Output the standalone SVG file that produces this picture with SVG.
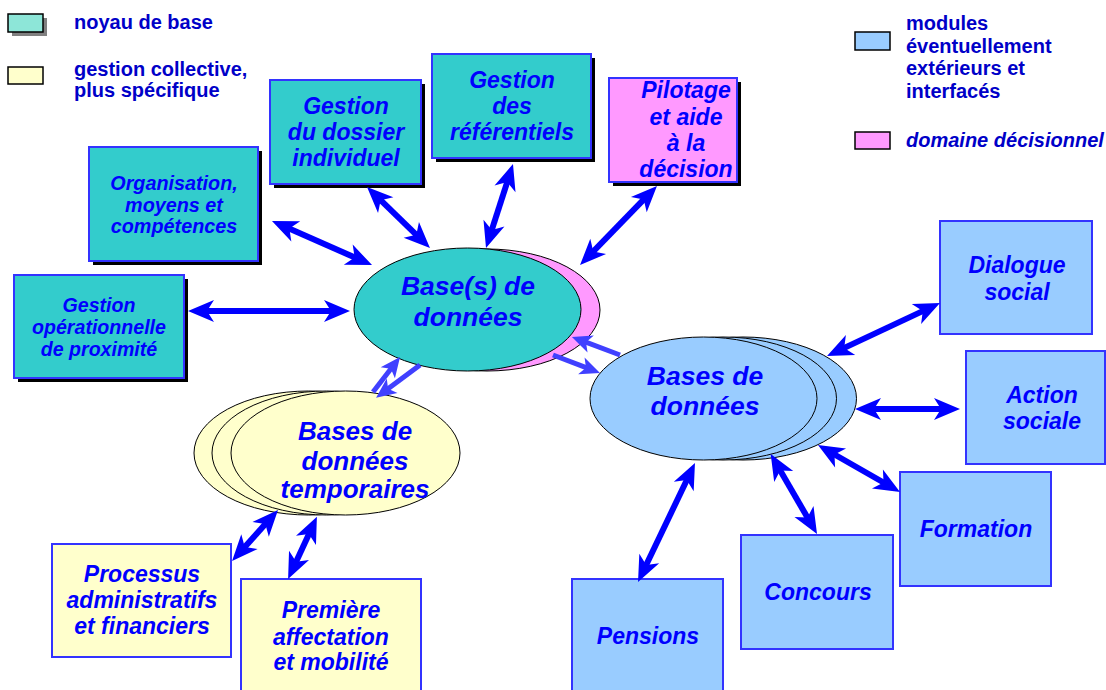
<svg xmlns="http://www.w3.org/2000/svg" width="1106" height="690" viewBox="0 0 1106 690">
<style>
.lg{font-family:"Liberation Sans",Arial,sans-serif;font-weight:bold;font-size:20px;fill:#0000c8}
.t{font-family:"Liberation Sans",Arial,sans-serif;font-weight:bold;font-style:italic;fill:#0000ff;text-anchor:middle}
.s22{font-size:23px}
.s26{font-size:26.5px}
.teal{fill:#33cccc;stroke:#3333ff;stroke-width:2}
.pink{fill:#ff99ff;stroke:#3333ff;stroke-width:2}
.blue{fill:#99ccff;stroke:#3333ff;stroke-width:2}
.yel{fill:#ffffcc;stroke:#3333ff;stroke-width:2}
.sh{fill:#000}
.el{stroke:#000;stroke-width:1}
.a{stroke:#0000ff;stroke-width:6;fill:none;marker-start:url(#h);marker-end:url(#h)}
.b{stroke:#4040ff;stroke-width:5;fill:none;marker-end:url(#h2)}
</style>
<defs>
<marker id="h" markerUnits="userSpaceOnUse" viewBox="-12 -12 28 24" markerWidth="28" markerHeight="24" refX="0" refY="0" orient="auto-start-reverse" overflow="visible">
<path d="M15,0 L-11,-11 L-4,0 L-11,11 Z" fill="#0000ff"/>
</marker>
<marker id="h2" markerUnits="userSpaceOnUse" viewBox="-10 -10 24 20" markerWidth="24" markerHeight="20" refX="0" refY="0" orient="auto" overflow="visible">
<path d="M12,0 L-8,-9 L-3,0 L-8,9 Z" fill="#4040ff"/>
</marker>
</defs>

<g id="legend">
<rect x="12" y="18" width="35" height="18" fill="#808080"/>
<rect x="8" y="14" width="35" height="18" fill="#8de6d8" stroke="#000" stroke-width="1.5"/>
<text class="lg" x="74" y="29">noyau de base</text>
<rect x="8" y="67" width="35" height="17" fill="#ffffcc" stroke="#000" stroke-width="1.5"/>
<text class="lg" x="74" y="76">gestion collective,</text>
<text class="lg" x="74" y="97">plus spécifique</text>
<rect x="855" y="32" width="35" height="18" fill="#99ccff" stroke="#000" stroke-width="1.5"/>
<text class="lg" x="906" y="30">modules</text>
<text class="lg" x="906" y="53">éventuellement</text>
<text class="lg" x="906" y="75">extérieurs et</text>
<text class="lg" x="906" y="98">interfacés</text>
<rect x="855" y="132" width="35" height="17" fill="#ff99ff" stroke="#000" stroke-width="1.5"/>
<text class="lg" x="906" y="147" font-style="italic" font-size="21">domaine décisionnel</text>
</g>

<g id="organisation">
<rect class="sh" x="93" y="151" width="169" height="114"/>
<rect class="teal" x="89" y="147" width="169" height="114"/>
<text class="t" font-size="19.8" x="174" y="190">Organisation,</text>
<text class="t" font-size="19.8" x="174" y="212">moyens et</text>
<text class="t" font-size="19.8" x="174" y="233">compétences</text>
</g>

<g id="operationnelle">
<rect class="sh" x="18" y="279" width="170" height="103"/>
<rect class="teal" x="14" y="275" width="170" height="103"/>
<text class="t" font-size="19.6" x="99" y="312">Gestion</text>
<text class="t" font-size="19.6" x="99" y="334">opérationnelle</text>
<text class="t" font-size="19.6" x="99" y="356">de proximité</text>
</g>

<g id="dossier">
<rect class="sh" x="274" y="84" width="151" height="104"/>
<rect class="teal" x="270" y="80" width="151" height="104"/>
<text class="t s22" x="346" y="114">Gestion</text>
<text class="t s22" x="346" y="140">du dossier</text>
<text class="t s22" x="346" y="166">individuel</text>
</g>

<g id="referentiels">
<rect class="sh" x="436" y="58" width="159" height="104"/>
<rect class="teal" x="432" y="54" width="159" height="104"/>
<text class="t s22" x="512" y="88">Gestion</text>
<text class="t s22" x="512" y="114">des</text>
<text class="t s22" x="512" y="140">référentiels</text>
</g>

<g id="pilotage">
<rect class="sh" x="613" y="82" width="128" height="104"/>
<rect class="pink" x="609" y="78" width="128" height="104"/>
<text class="t s22" x="686" y="98">Pilotage</text>
<text class="t s22" x="686" y="125">et aide</text>
<text class="t s22" x="686" y="151">à la</text>
<text class="t s22" x="686" y="177">décision</text>
</g>

<g id="bases-centrales">
<ellipse class="el" cx="487" cy="310" rx="113" ry="61" fill="#ff99ff"/>
<ellipse class="el" cx="467.5" cy="309.5" rx="113.5" ry="61.5" fill="#33cccc"/>
<text class="t s26" x="468" y="295">Base(s) de</text>
<text class="t s26" x="468" y="326">données</text>
</g>

<g id="bases-exterieures">
<ellipse class="el" cx="743" cy="398.5" rx="113.5" ry="61.5" fill="#99ccff"/>
<ellipse class="el" cx="723" cy="398.5" rx="113.5" ry="61.5" fill="#99ccff"/>
<ellipse class="el" cx="703.5" cy="398.5" rx="113.5" ry="61.5" fill="#99ccff"/>
<text class="t s26" x="705" y="385">Bases de</text>
<text class="t s26" x="705" y="415">données</text>
</g>

<g id="bases-temporaires">
<ellipse class="el" cx="308.5" cy="453" rx="114.5" ry="62" fill="#ffffcc"/>
<ellipse class="el" cx="326.5" cy="453" rx="114.5" ry="62" fill="#ffffcc"/>
<ellipse class="el" cx="345.5" cy="453" rx="114.5" ry="62" fill="#ffffcc"/>
<text class="t" font-size="26" x="355" y="440">Bases de</text>
<text class="t" font-size="26" x="355" y="470">données</text>
<text class="t" font-size="26" x="355" y="498">temporaires</text>
</g>

<g id="dialogue">
<rect class="blue" x="940" y="221" width="152" height="113"/>
<text class="t s22" x="1017" y="273">Dialogue</text>
<text class="t s22" x="1017" y="300">social</text>
</g>

<g id="action">
<rect class="blue" x="966" y="351" width="139" height="113"/>
<text class="t s22" x="1042" y="403">Action</text>
<text class="t s22" x="1042" y="429">sociale</text>
</g>

<g id="formation">
<rect class="blue" x="900" y="472" width="151" height="114"/>
<text class="t s22" x="976" y="537">Formation</text>
</g>

<g id="concours">
<rect class="blue" x="741" y="535" width="152" height="114"/>
<text class="t s22" x="818" y="600">Concours</text>
</g>

<g id="pensions">
<rect class="blue" x="572" y="579" width="151" height="121"/>
<text class="t s22" x="648" y="644">Pensions</text>
</g>

<g id="processus">
<rect class="yel" x="52" y="544" width="179" height="113"/>
<text class="t" font-size="23" x="142" y="582">Processus</text>
<text class="t" font-size="23" x="142" y="608">administratifs</text>
<text class="t" font-size="23" x="142" y="634">et financiers</text>
</g>

<g id="premiere">
<rect class="yel" x="241" y="579" width="180" height="120"/>
<text class="t" font-size="23" x="331" y="618">Première</text>
<text class="t" font-size="23" x="331" y="645">affectation</text>
<text class="t" font-size="23" x="331" y="670">et mobilité</text>
</g>

<g id="connectors">
<line class="a" x1="285.7" y1="227" x2="358.3" y2="259"/>
<line class="a" x1="203" y1="311" x2="335" y2="311"/>
<line class="a" x1="377.8" y1="197.4" x2="419.2" y2="237.6"/>
<line class="a" x1="508.4" y1="178.3" x2="490.6" y2="233.7"/>
<line class="a" x1="646.5" y1="196.7" x2="590.5" y2="254.3"/>
<line class="a" x1="926.4" y1="309.4" x2="840.6" y2="349.6"/>
<line class="a" x1="945" y1="409" x2="870" y2="409"/>
<line class="a" x1="887" y1="484.5" x2="831" y2="452.5"/>
<line class="a" x1="809.5" y1="521" x2="778.2" y2="467"/>
<line class="a" x1="644.5" y1="568.5" x2="688.5" y2="476.5"/>
<line class="a" x1="242.1" y1="549.9" x2="268" y2="521.1"/>
<line class="a" x1="294.4" y1="565.4" x2="310.6" y2="530.4"/>
<line class="b" x1="373" y1="392" x2="392.7" y2="366.5"/>
<line class="b" x1="420" y1="365" x2="385.7" y2="390.5"/>
<line class="b" x1="620" y1="355" x2="583.2" y2="341.2"/>
<line class="b" x1="553" y1="355" x2="588.8" y2="368.7"/>
</g>
</svg>
